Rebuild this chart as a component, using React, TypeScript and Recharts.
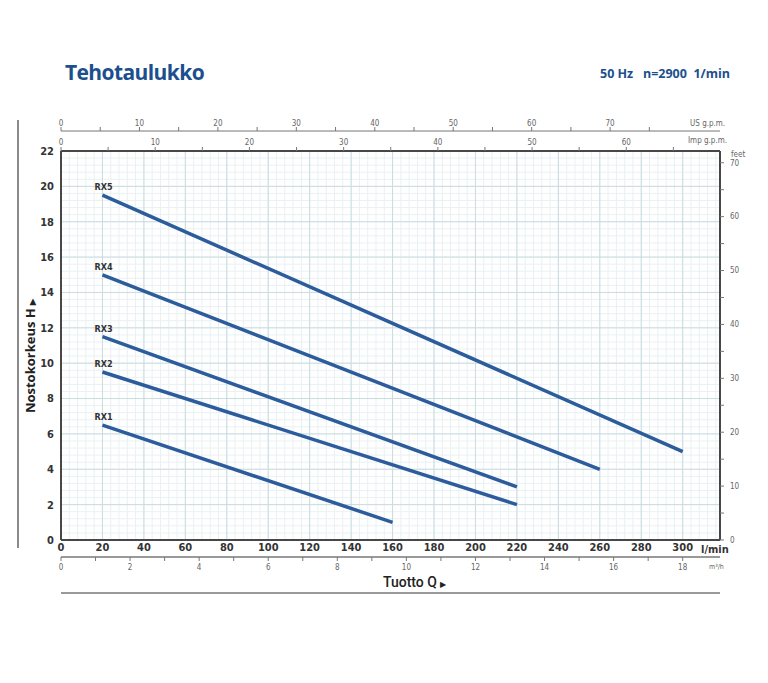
import React from "react";
import {
  LineChart,
  Line,
  XAxis,
  YAxis,
  CartesianGrid,
} from "recharts";

// pump curves, flow in l/min, head in m
const RX5 = [
  { q: 20, h: 19.5 },
  { q: 300, h: 5 },
];
const RX4 = [
  { q: 20, h: 15 },
  { q: 260, h: 4 },
];
const RX3 = [
  { q: 20, h: 11.5 },
  { q: 220, h: 3 },
];
const RX2 = [
  { q: 20, h: 9.5 },
  { q: 220, h: 2 },
];
const RX1 = [
  { q: 20, h: 6.5 },
  { q: 160, h: 1 },
];

const SERIES = [
  { name: "RX5", data: RX5 },
  { name: "RX4", data: RX4 },
  { name: "RX3", data: RX3 },
  { name: "RX2", data: RX2 },
  { name: "RX1", data: RX1 },
];

const FLOW_TICKS = [0, 20, 40, 60, 80, 100, 120, 140, 160, 180, 200, 220, 240, 260, 280, 300];
const HEAD_TICKS = [0, 2, 4, 6, 8, 10, 12, 14, 16, 18, 20, 22];
const M3H_TICKS = [0, 1, 2, 3, 4, 5, 6, 7, 8, 9, 10, 11, 12, 13, 14, 15, 16, 17, 18];
const US_TICKS = [0, 5, 10, 15, 20, 25, 30, 35, 40, 45, 50, 55, 60, 65, 70, 75];
const IMP_TICKS = [0, 5, 10, 15, 20, 25, 30, 35, 40, 45, 50, 55, 60, 65];
const FEET_TICKS = [0, 5, 10, 15, 20, 25, 30, 35, 40, 45, 50, 55, 60, 65, 70];

// l/min per unit
const M3H = 1000 / 60;
const US_GPM = 3.78541;
const IMP_GPM = 4.54609;

const Q_MAX = 318;
const H_MAX = 22;

// fine grid
const MINOR_Q = Array.from({ length: Math.floor(Q_MAX / 4) + 1 }, (_, i) => i * 4);
const MINOR_H = Array.from({ length: 56 }, (_, i) => +(i * 0.4).toFixed(1));

const NARROW = "'Liberation Sans Narrow', 'DejaVu Sans Condensed', sans-serif";
const BLUE = "#1c4f8d";
const LINE = "#2c5c9b";
const FRAME = "#474747";

const small = { fill: "#666", fontSize: 8, fontFamily: NARROW };
const bold = { fill: "#333", fontSize: 11, fontWeight: 700, fontFamily: NARROW };

const every = (n: number) => (v: number) => (v % n === 0 ? String(v) : "");
// secondary flow axes share the l/min scale, labels shown in their own unit
const inUnit = (f: number, n: number) => (v: number) => {
  const u = Math.round(v / f);
  return u % n === 0 ? String(u) : "";
};

function seriesLabel(name: string) {
  return (p: any) =>
    p.index === 0 ? (
      <text
        key={name}
        x={p.x - 8}
        y={p.y - 5}
        fontSize={9}
        fontWeight={700}
        fontFamily={NARROW}
        fill="#333"
      >
        {name}
      </text>
    ) : null;
}

const abs = (left: number, top: number, extra: React.CSSProperties = {}): React.CSSProperties => ({
  position: "absolute",
  left,
  top,
  whiteSpace: "nowrap",
  lineHeight: 1,
  ...extra,
});

export default function App() {
  return (
    <div style={{ position: "absolute", left: 0, top: 0, width: 768, height: 683, background: "#fff" }}>
      <div
        style={abs(65, 62, {
          fontFamily: "'Open Sans', sans-serif",
          fontWeight: 700,
          fontSize: 21,
          color: BLUE,
          letterSpacing: -0.6,
        })}
      >
        Tehotaulukko
      </div>
      <div
        style={abs(600, 68, {
          fontFamily: "'Open Sans', sans-serif",
          fontWeight: 700,
          fontSize: 12.5,
          color: BLUE,
        })}
      >
        50 Hz&nbsp;&nbsp;&nbsp;n=2900&nbsp;&nbsp;1/min
      </div>

      {/* axes are stacked in id order, so ids start with a/b */}
      <LineChart width={768} height={683} data={RX5} margin={{ top: 111, right: 0, bottom: 96, left: 0 }}>
        <XAxis
          xAxisId="a_q"
          dataKey="q"
          type="number"
          orientation="bottom"
          domain={[0, Q_MAX]}
          ticks={FLOW_TICKS}
          interval={0}
          height={17}
          tickLine={false}
          tickSize={0}
          tickMargin={3}
          tick={bold}
          axisLine={{ stroke: FRAME, strokeWidth: 2 }}
          allowDataOverflow
        />
        <XAxis
          xAxisId="b_m3"
          dataKey="q"
          type="number"
          orientation="bottom"
          domain={[0, Q_MAX]}
          ticks={M3H_TICKS.map((v) => v * M3H)}
          interval={0}
          height={30}
          tickSize={4}
          tickMargin={3}
          tick={small}
          tickFormatter={inUnit(M3H, 2)}
          tickLine={{ stroke: "#777" }}
          axisLine={{ stroke: "#777", strokeWidth: 1.5 }}
          allowDataOverflow
        />
        <XAxis
          xAxisId="a_imp"
          dataKey="q"
          type="number"
          orientation="top"
          domain={[0, Q_MAX]}
          ticks={IMP_TICKS.map((v) => v * IMP_GPM)}
          interval={0}
          height={20}
          tickSize={4}
          tickMargin={2}
          tick={small}
          tickFormatter={inUnit(IMP_GPM, 10)}
          tickLine={{ stroke: "#777" }}
          axisLine={{ stroke: FRAME, strokeWidth: 2 }}
          allowDataOverflow
        />
        <XAxis
          xAxisId="b_us"
          dataKey="q"
          type="number"
          orientation="top"
          domain={[0, Q_MAX]}
          ticks={US_TICKS.map((v) => v * US_GPM)}
          interval={0}
          height={20}
          tickSize={4}
          tickMargin={1}
          tick={small}
          tickFormatter={inUnit(US_GPM, 10)}
          tickLine={{ stroke: "#777" }}
          axisLine={{ stroke: "#777", strokeWidth: 1.2 }}
          allowDataOverflow
        />
        <YAxis
          yAxisId="a_h"
          type="number"
          domain={[0, H_MAX]}
          ticks={HEAD_TICKS}
          interval={0}
          width={61}
          tickLine={false}
          tickSize={0}
          tickMargin={7}
          tick={bold}
          axisLine={{ stroke: FRAME, strokeWidth: 2 }}
          allowDataOverflow
        />
        <YAxis
          yAxisId="a_ft"
          type="number"
          orientation="right"
          domain={[0, H_MAX * 3.28084]}
          ticks={FEET_TICKS}
          interval={0}
          width={48}
          tickSize={4}
          tickMargin={6}
          tick={small}
          tickFormatter={every(10)}
          tickLine={{ stroke: "#777" }}
          axisLine={{ stroke: FRAME, strokeWidth: 2 }}
          allowDataOverflow
        />
        {/* hidden axes only feeding the fine grid */}
        <XAxis xAxisId="z_gx" dataKey="q" type="number" domain={[0, Q_MAX]} ticks={MINOR_Q} interval={0} height={0} hide allowDataOverflow />
        <YAxis yAxisId="z_gy" type="number" domain={[0, H_MAX]} ticks={MINOR_H} interval={0} width={0} hide allowDataOverflow />

        <CartesianGrid xAxisId="z_gx" yAxisId="z_gy" stroke="#e9f1f3" strokeWidth={1} />
        <CartesianGrid xAxisId="a_q" yAxisId="a_h" stroke="#c8dce1" strokeWidth={1} />

        {SERIES.map((s) => (
          <Line
            key={s.name}
            xAxisId="a_q"
            yAxisId="a_h"
            data={s.data}
            dataKey="h"
            stroke={LINE}
            strokeWidth={3.5}
            dot={false}
            label={seriesLabel(s.name)}
            isAnimationActive={false}
          />
        ))}
      </LineChart>

      {/* frame decorations */}
      <div style={abs(17, 120, { width: 1.5, height: 428, background: "#8a8a8a" })} />
      <div style={abs(61, 592, { width: 659, height: 2, background: "#9a9a9a" })} />

      <div style={abs(690, 120, { fontFamily: NARROW, fontSize: 8, color: "#666" })}>US g.p.m.</div>
      <div style={abs(688, 137, { fontFamily: NARROW, fontSize: 8, color: "#666" })}>Imp g.p.m.</div>
      <div style={abs(731, 151, { fontFamily: NARROW, fontSize: 8, color: "#666" })}>feet</div>
      <div style={abs(701, 544, { fontFamily: NARROW, fontSize: 11, fontWeight: 700, color: "#333" })}>l/min</div>
      <div style={abs(709, 564, { fontFamily: NARROW, fontSize: 7, color: "#666" })}>m³/h</div>

      <div
        style={abs(383, 575, {
          fontFamily: "Roboto, sans-serif",
          fontSize: 14,
          fontWeight: 500,
          color: "#222",
        })}
      >
        Tuotto Q <span style={{ fontSize: 8 }}>▶</span>
      </div>
      <div
        style={abs(30, 356, {
          fontFamily: "'Open Sans', sans-serif",
          fontSize: 13,
          fontWeight: 700,
          color: "#222",
          transform: "translate(0, -50%) rotate(-90deg) translate(-50%, 0)",
          transformOrigin: "0 50%",
        })}
      >
        Nostokorkeus H <span style={{ fontSize: 8 }}>▶</span>
      </div>
    </div>
  );
}
